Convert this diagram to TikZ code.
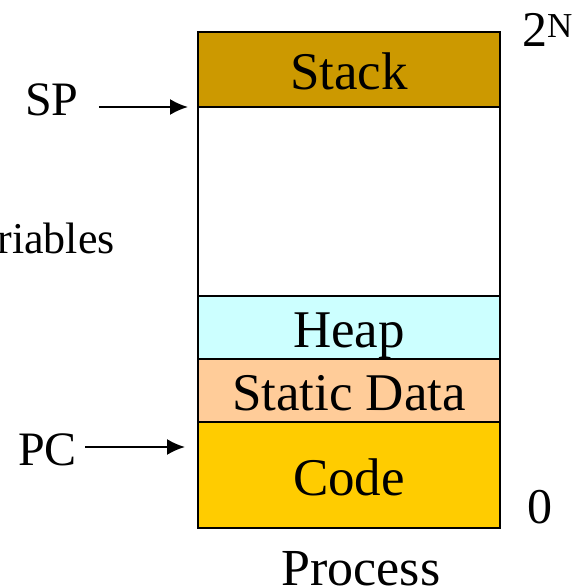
\documentclass[tikz,border=0pt]{standalone}
\usepackage{fontspec}
\setmainfont{Liberation Serif}
\usetikzlibrary{positioning,arrows.meta}
\definecolor{stackcol}{HTML}{CC9900}
\definecolor{heapcol}{HTML}{CCFFFF}
\definecolor{datacol}{HTML}{FFCC99}
\definecolor{codecol}{HTML}{FFCC00}
\begin{document}
\begin{tikzpicture}[x=1pt,y=-1pt,
  segment/.style={draw,line width=1.5pt,minimum width=302pt,inner sep=0pt,outer sep=0pt,
    text height=40pt,text depth=0pt,font=\fontsize{53}{60}\selectfont},
  lbl/.style={inner sep=0pt,font=\fontsize{48}{56}\selectfont}]
\useasboundingbox (0,0) rectangle (571,586);
	\node[segment,fill=stackcol,minimum height=75pt] (stack) at (349,69.5) {Stack};
	\node[segment,minimum height=189pt,below=0pt of stack] (free) {};
	\node[segment,fill=heapcol,minimum height=63pt,below=0pt of free] (heap) {Heap};
	\node[segment,fill=datacol,minimum height=63pt,below=0pt of heap] (data) {Static Data};
	\node[segment,fill=codecol,minimum height=106pt,below=0pt of data] (code) {Code};
	\node[lbl,anchor=base west] (sp) at (25,115) {SP};
	\node[lbl,anchor=base west] (pc) at (18,465) {PC};
	\node[lbl,anchor=base east,font=\fontsize{44}{52}\selectfont] (vars) at (115,253) {riables};
	\node[lbl,anchor=base west,font=\fontsize{50}{56}\selectfont] (top) at (522,47) {2\textsuperscript{N}};
	\node[lbl,anchor=base west,font=\fontsize{50}{56}\selectfont] (zero) at (527,523) {0};
	\node[lbl,anchor=base,font=\fontsize{52}{60}\selectfont] (proc) at (361,585) {Process};
	\coordinate (pcpt) at ([yshift=-25pt]code.north west);
\draw[line width=2pt, ->, >={Latex[length=18pt,width=16pt]}]
	([xshift=20pt]sp.east |- stack.south west) -- ([xshift=-10pt]stack.south west);
\draw[line width=2pt, ->, >={Latex[length=18pt,width=16pt]}]
	([xshift=8pt]pc.east |- pcpt) -- ([xshift=-13pt]pcpt);
\end{tikzpicture}
\end{document}
